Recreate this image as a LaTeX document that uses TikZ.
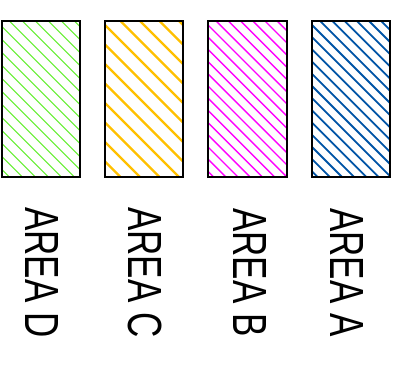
\documentclass[tikz,border=0pt]{standalone}
\usepackage{fontspec}
\setmainfont{Liberation Sans}
\definecolor{verdeD}{RGB}{102,238,51}
\definecolor{aranC}{RGB}{255,192,0}
\definecolor{magB}{RGB}{255,0,255}
\definecolor{bluA}{RGB}{0,84,166}
\begin{document}
\begin{tikzpicture}[x=1pt,y=-1pt,
    cornice/.style={line width=1.3pt,black},
    etichetta/.style={rotate=-90,yscale=1.37,inner sep=0pt,font=\fontsize{35}{40}\selectfont}]
        \useasboundingbox (0,0) rectangle (399,369);

        % Area D
        \begin{scope}
            \clip (2,21) rectangle (80,177);
            \foreach \c in {-51.3,-38.3,...,180}
                \draw[verdeD,line width=1.1pt] (2,\c) -- (80,\c+78);
        \end{scope}
        \draw[cornice] (2,21) rectangle (80,177);

        % Area C
        \begin{scope}
            \clip (105,21) rectangle (183,177);
            \foreach \c in {-53,-33.5,...,180}
                \draw[aranC,line width=2.4pt] (105,\c) -- (183,\c+78);
        \end{scope}
        \draw[cornice] (105,21) rectangle (183,177);

        % Area B
        \begin{scope}
            \clip (208,21) rectangle (287,177);
            \foreach \c in {-48.2,-36,...,180}
                \draw[magB,line width=1.4pt] (208,\c) -- (287,\c+79);
        \end{scope}
        \draw[cornice] (208,21) rectangle (287,177);

        % Area A
        \begin{scope}
            \clip (312,21) rectangle (390,177);
            \foreach \c in {-48.2,-36,...,180}
                \draw[bluA,line width=1.8pt] (312,\c) -- (390,\c+78);
        \end{scope}
        \draw[cornice] (312,21) rectangle (390,177);

        % Etichette
        \node[etichetta] (etD) at (41.5,272.5) {AREA D};
        \node[etichetta] (etC) at (145.5,272.5) {AREA C};
        \node[etichetta] (etB) at (249.5,272.5) {AREA B};
        \node[etichetta] (etA) at (346.5,272.5) {AREA A};
    \end{tikzpicture}
\end{document}
